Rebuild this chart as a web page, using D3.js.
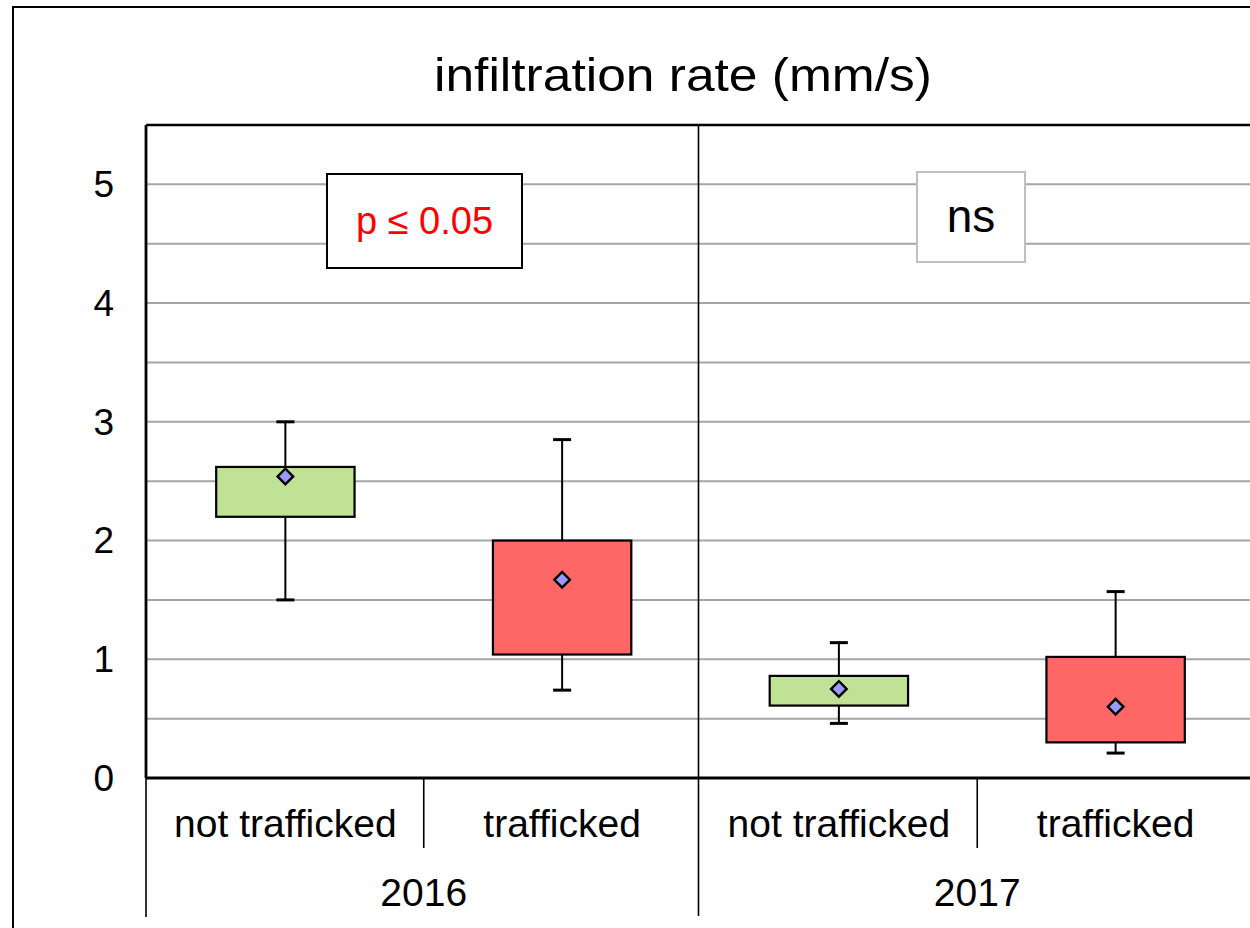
<!DOCTYPE html>
<html>
<head>
<meta charset="utf-8">
<script src="https://cdn.jsdelivr.net/npm/d3@7"></script>
<style>
html,body{margin:0;padding:0;background:#fff;}
svg{display:block;font-family:"Liberation Sans",Arial,sans-serif;}
</style>
</head>
<body>
<svg id="chart" width="1250" height="928"></svg>
<script>
// ---- data ----
const title = "infiltration rate (mm/s)";
const years = ["2016", "2017"];
const categories = ["not trafficked", "trafficked", "not trafficked", "trafficked"];
const categoryYear = ["2016", "2016", "2017", "2017"];
const whiskerLow  = [1.50, 0.74, 0.46, 0.21];
const q1          = [2.20, 1.04, 0.61, 0.30];
const q3          = [2.62, 2.00, 0.86, 1.02];
const whiskerHigh = [3.00, 2.85, 1.14, 1.57];
const means       = [2.54, 1.67, 0.75, 0.60];
const yTickLabels = [0, 1, 2, 3, 4, 5];
const gridValues  = [0.5, 1, 1.5, 2, 2.5, 3, 3.5, 4, 4.5, 5];
const annotationText = ["p ≤ 0.05", "ns"];
const annotationYear = ["2016", "2017"];

// ---- layout ----
const svg = d3.select("#chart");
const plotLeft = 146, plotTop = 125, plotBottom = 778, plotRight = 1254;
const fills = ["#c0e294", "#ff6666", "#c0e294", "#ff6666"];

const y = d3.scaleLinear().domain([0, 5.5]).range([plotBottom, plotTop]);
const x = d3.scaleBand().domain(d3.range(categories.length)).range([147, 1254]).padding(0);
const bw = x.bandwidth();
const cx = i => x(i) + bw / 2;
const yearX = d3.scaleBand().domain(years).range([147, 1254]);

// outer border
svg.append("rect").attr("x", 13).attr("y", 7).attr("width", 1300).attr("height", 1000)
  .attr("fill", "none").attr("stroke", "#000").attr("stroke-width", 2);

// gridlines
svg.append("g").selectAll("line").data(gridValues).join("line")
  .attr("x1", plotLeft).attr("x2", plotRight)
  .attr("y1", d => y(d)).attr("y2", d => y(d))
  .attr("stroke", "#a6a6a6").attr("stroke-width", 2);

// plot area top border
svg.append("line").attr("x1", plotLeft).attr("x2", plotRight)
  .attr("y1", y(5.5)).attr("y2", y(5.5)).attr("stroke", "#000").attr("stroke-width", 2.5);

// year divider (between groups) from plot top to bottom of labels
svg.append("g").selectAll("line").data(years.slice(1)).join("line")
  .attr("x1", d => yearX(d) - 2).attr("x2", d => yearX(d) - 2)
  .attr("y1", plotTop).attr("y2", 916)
  .attr("stroke", "#000").attr("stroke-width", 1.6);

// category dividers within year
svg.append("g").selectAll("line").data([1, 3]).join("line")
  .attr("x1", d => x(d)).attr("x2", d => x(d))
  .attr("y1", plotBottom).attr("y2", 848)
  .attr("stroke", "#000").attr("stroke-width", 1.6);

// left axis line
svg.append("line").attr("x1", plotLeft).attr("x2", plotLeft)
  .attr("y1", plotTop).attr("y2", plotBottom).attr("stroke", "#000").attr("stroke-width", 2.8);
svg.append("line").attr("x1", plotLeft).attr("x2", plotLeft)
  .attr("y1", plotBottom).attr("y2", 917).attr("stroke", "#000").attr("stroke-width", 1.6);

// y tick labels
svg.append("g").selectAll("text").data(yTickLabels).join("text")
  .attr("x", 114).attr("y", d => y(d)).attr("dy", "0.35em")
  .attr("text-anchor", "end").attr("font-size", 37).attr("fill", "#000")
  .text(d => d);

// whiskers
const g = svg.append("g");
const idx = d3.range(categories.length);
g.selectAll("line.wh").data(idx).join("line").attr("class", "wh")
  .attr("x1", cx).attr("x2", cx)
  .attr("y1", i => y(whiskerLow[i])).attr("y2", i => y(whiskerHigh[i]))
  .attr("stroke", "#000").attr("stroke-width", 2);
const capW = 18;
g.selectAll("line.capH").data(idx).join("line").attr("class", "capH")
  .attr("x1", i => cx(i) - capW / 2).attr("x2", i => cx(i) + capW / 2)
  .attr("y1", i => y(whiskerHigh[i])).attr("y2", i => y(whiskerHigh[i]))
  .attr("stroke", "#000").attr("stroke-width", 3);
g.selectAll("line.capL").data(idx).join("line").attr("class", "capL")
  .attr("x1", i => cx(i) - capW / 2).attr("x2", i => cx(i) + capW / 2)
  .attr("y1", i => y(whiskerLow[i])).attr("y2", i => y(whiskerLow[i]))
  .attr("stroke", "#000").attr("stroke-width", 3);

// boxes
const boxW = bw * 0.5;
g.selectAll("rect.box").data(idx).join("rect").attr("class", "box")
  .attr("x", i => cx(i) - boxW / 2).attr("width", boxW)
  .attr("y", i => y(q3[i])).attr("height", i => y(q1[i]) - y(q3[i]))
  .attr("fill", i => fills[i]).attr("stroke", "#000").attr("stroke-width", 2.2);

// mean diamonds
g.selectAll("path.mean").data(idx).join("path").attr("class", "mean")
  .attr("transform", i => `translate(${cx(i)},${y(means[i])}) rotate(45)`)
  .attr("d", "M-5.5,-5.5H5.5V5.5H-5.5Z")
  .attr("fill", "#9999ff").attr("stroke", "#000").attr("stroke-width", 2.4);

// bottom axis line
svg.append("line").attr("x1", plotLeft).attr("x2", plotRight)
  .attr("y1", plotBottom).attr("y2", plotBottom).attr("stroke", "#000").attr("stroke-width", 3);

// category labels
svg.append("g").selectAll("text").data(idx).join("text")
  .attr("x", cx).attr("y", 837).attr("text-anchor", "middle")
  .attr("font-size", 39).attr("fill", "#000").text(i => categories[i]);

// year labels
svg.append("g").selectAll("text").data(years).join("text")
  .attr("x", d => yearX(d) + yearX.bandwidth() / 2).attr("y", 906)
  .attr("text-anchor", "middle").attr("font-size", 39).attr("fill", "#000").text(d => d);

// annotation boxes
const annoBoxes = [
  {x0: 327, x1: 522, y0: 174, y1: 268, stroke: "#000", color: "#ff0000", fs: 38, ty: 234},
  {x0: 917, x1: 1025, y0: 172, y1: 262, stroke: "#c0c0c0", color: "#000", fs: 46, ty: 232}
];
const ag = svg.append("g").selectAll("g").data(annotationText).join("g");
ag.append("rect")
  .attr("x", (d, i) => annoBoxes[i].x0).attr("y", (d, i) => annoBoxes[i].y0)
  .attr("width", (d, i) => annoBoxes[i].x1 - annoBoxes[i].x0)
  .attr("height", (d, i) => annoBoxes[i].y1 - annoBoxes[i].y0)
  .attr("fill", "#fff").attr("stroke", (d, i) => annoBoxes[i].stroke).attr("stroke-width", 2);
ag.append("text")
  .attr("x", (d, i) => (annoBoxes[i].x0 + annoBoxes[i].x1) / 2)
  .attr("y", (d, i) => annoBoxes[i].ty)
  .attr("text-anchor", "middle")
  .attr("font-size", (d, i) => annoBoxes[i].fs)
  .attr("fill", (d, i) => annoBoxes[i].color)
  .text(d => d);

// title
svg.append("text").attr("x", 683).attr("y", 91).attr("text-anchor", "middle")
  .attr("font-size", 47).attr("textLength", 498).attr("lengthAdjust", "spacingAndGlyphs")
  .attr("fill", "#000").text(title);
</script>
</body>
</html>
